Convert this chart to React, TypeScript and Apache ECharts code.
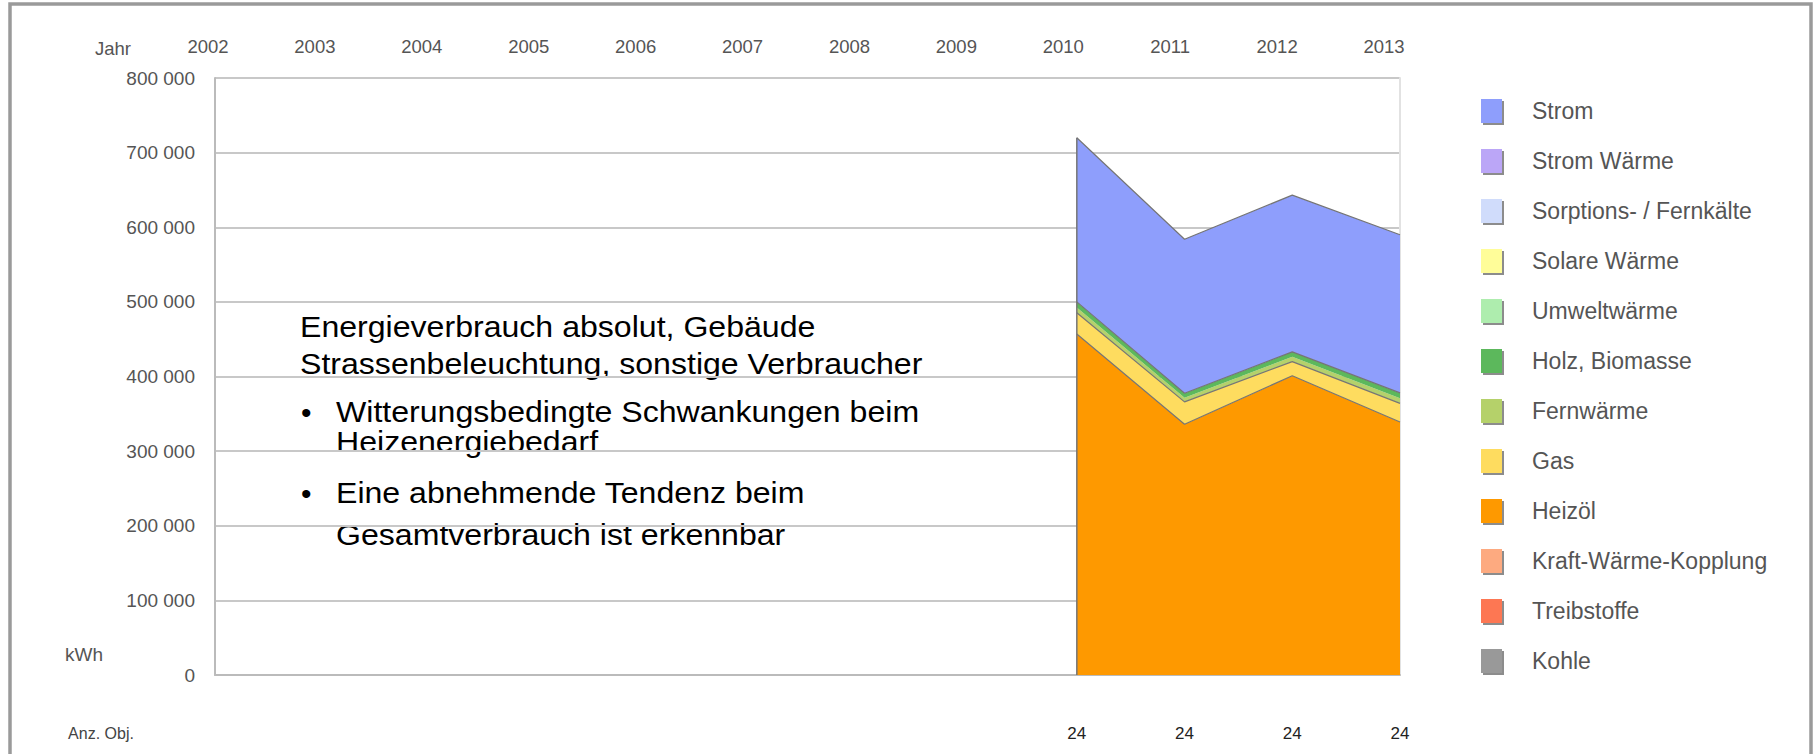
import React, { useEffect, useRef } from "react";
import * as echarts from "echarts";

const years = ["2002", "2003", "2004", "2005", "2006", "2007", "2008", "2009", "2010", "2011", "2012", "2013"];
const anzObj = ["", "", "", "", "", "", "", "", "24", "24", "24", "24"];
const N = null;

// values in kWh (stack order bottom -> top)
const kohle = [N, N, N, N, N, N, N, N, 0, 0, 0, 0];
const treibstoffe = [N, N, N, N, N, N, N, N, 0, 0, 0, 0];
const kwk = [N, N, N, N, N, N, N, N, 0, 0, 0, 0];
const heizoel = [N, N, N, N, N, N, N, N, 457000, 336000, 401000, 339000];
const gas = [N, N, N, N, N, N, N, N, 28500, 30000, 19000, 25000];
const fernwaerme = [N, N, N, N, N, N, N, N, 7000, 5500, 6500, 7000];
const holz = [N, N, N, N, N, N, N, N, 7500, 6000, 6500, 7000];
const umwelt = [N, N, N, N, N, N, N, N, 0, 0, 0, 0];
const solare = [N, N, N, N, N, N, N, N, 0, 0, 0, 0];
const sorptions = [N, N, N, N, N, N, N, N, 0, 0, 0, 0];
const stromWaerme = [N, N, N, N, N, N, N, N, 0, 0, 0, 0];
const strom = [N, N, N, N, N, N, N, N, 220000, 206500, 210000, 212000];

const seriesNames = [
  "Kohle", "Treibstoffe", "Kraft-Wärme-Kopplung", "Heizöl", "Gas", "Fernwärme",
  "Holz, Biomasse", "Umweltwärme", "Solare Wärme", "Sorptions- / Fernkälte", "Strom Wärme", "Strom",
];
const seriesData = [kohle, treibstoffe, kwk, heizoel, gas, fernwaerme, holz, umwelt, solare, sorptions, stromWaerme, strom];
const seriesColors = [
  "#999999", "#FD7753", "#FDAA80", "#FE9900", "#FEDC5F", "#B5D16B",
  "#5CB85C", "#AEEDAE", "#FFFD99", "#D0DCFB", "#BBA6F7", "#8E9EFC",
];
// series whose top edge is drawn without an outline
const noOutline = ["Fernwärme"];

const noteTitle = ["Energieverbrauch absolut, Gebäude", "Strassenbeleuchtung, sonstige Verbraucher"];
const noteBullets = [
  ["Witterungsbedingte Schwankungen beim", "Heizenergiebedarf"],
  ["Eine abnehmende Tendenz beim", "Gesamtverbrauch ist erkennbar"],
];

const FONT = '"Liberation Sans", Arial, sans-serif';

function fmt(v: number) {
  return String(v).replace(/\B(?=(\d{3})+(?!\d))/g, " ");
}

export default function App() {
  const ref = useRef<HTMLDivElement>(null);
  useEffect(() => {
    if (!ref.current) return;
    const chart = echarts.init(ref.current, null, { renderer: "svg" });

    const idx2010 = years.indexOf("2010");
    const total2010 = seriesData.reduce((s, arr) => s + ((arr[idx2010] as number) || 0), 0);

    const series: any[] = seriesData.map((arr, i) => {
      const allZero = arr.every((v) => v === null || v === 0);
      const hide = allZero || noOutline.includes(seriesNames[i]);
      return {
        type: "line",
        name: seriesNames[i],
        stack: "total",
        data: arr,
        xAxisIndex: 0,
        yAxisIndex: 0,
        symbol: "none",
        showSymbol: false,
        silent: true,
        color: seriesColors[i],
        itemStyle: { color: seriesColors[i] },
        lineStyle: { color: "#757575", width: hide ? 0 : 1.2 },
        areaStyle: { color: seriesColors[i], opacity: 1 },
      };
    });
    series.push({
      type: "line",
      name: "edge",
      data: [["2010", 0], ["2010", total2010]],
      xAxisIndex: 0,
      yAxisIndex: 0,
      symbol: "none",
      silent: true,
      lineStyle: { color: "#757575", width: 1.5 },
      z: 5,
    });

    const textEls: any[] = [];
    const tx = 300;
    const bx = 301;
    const btx = 336;
    const sX = 1.07;
    const tStyle = (t: string) => ({ text: t, fill: "#000", font: `30px ${FONT}`, align: "left", verticalAlign: "middle" });
    textEls.push({ type: "text", x: tx, y: 327, scaleX: sX, style: tStyle(noteTitle[0]) });
    textEls.push({ type: "text", x: tx, y: 364, scaleX: sX, style: tStyle(noteTitle[1]) });
    const bulletY = [[412, 442], [493, 535]];
    noteBullets.forEach((b, i) => {
      textEls.push({ type: "text", x: bx, y: bulletY[i][0], style: tStyle("•") });
      textEls.push({ type: "text", x: btx, y: bulletY[i][0], scaleX: sX, style: tStyle(b[0]) });
      textEls.push({ type: "text", x: btx, y: bulletY[i][1], scaleX: sX, style: tStyle(b[1]) });
    });

    chart.setOption({
      animation: false,
      backgroundColor: "#fff",
      textStyle: { fontFamily: FONT },
      grid: [
        { left: 215, right: 416, top: 78, bottom: 79 },
        { left: 208, right: 432, top: 78, bottom: 79 },
      ],
      xAxis: [
        {
          type: "category",
          gridIndex: 0,
          data: years,
          boundaryGap: false,
          axisLine: { show: true, lineStyle: { color: "#bbbbbb", width: 2 } },
          axisTick: { show: false },
          axisLabel: {
            margin: 50,
            color: "#222",
            fontSize: 17,
            fontFamily: FONT,
            formatter: (_v: string, i: number) => anzObj[i],
          },
          splitLine: { show: false },
        },
        {
          type: "category",
          gridIndex: 1,
          position: "top",
          data: years,
          boundaryGap: false,
          axisLine: { show: false },
          axisTick: { show: false },
          axisLabel: { margin: 22, color: "#555", fontSize: 18.5, fontFamily: FONT },
          splitLine: { show: false },
        },
      ],
      yAxis: [
        {
          type: "value",
          gridIndex: 0,
          min: 0,
          max: 800000,
          interval: 100000,
          axisLine: { show: true, lineStyle: { color: "#bbbbbb", width: 2 } },
          axisTick: { show: false },
          axisLabel: { margin: 20, color: "#555", fontSize: 19, fontFamily: FONT, formatter: (v: number) => fmt(v) },
          splitLine: { show: true, lineStyle: { color: "#c8c8c8", width: 2 } },
        },
        { type: "value", gridIndex: 1, show: false, min: 0, max: 800000 },
        {
          type: "value",
          gridIndex: 0,
          position: "right",
          min: 0,
          max: 800000,
          interval: 100000,
          axisLine: { show: true, lineStyle: { color: "#e2e2e2", width: 2 } },
          axisTick: { show: false },
          axisLabel: { show: false },
          splitLine: { show: false },
        },
      ],
      legend: {
        orient: "vertical",
        left: 1476,
        top: 94,
        itemWidth: 21,
        itemHeight: 24,
        itemGap: 26,
        icon: "rect",
        selectedMode: false,
        data: [...seriesNames].reverse(),
        itemStyle: { borderWidth: 0, shadowColor: "rgba(0,0,0,0.45)", shadowBlur: 1, shadowOffsetX: 2, shadowOffsetY: 2 },
        textStyle: { color: "#555", fontSize: 23, fontFamily: FONT, padding: [0, 0, 0, 25] },
      },
      graphic: [
        {
          type: "rect",
          shape: { x: 10, y: 4, width: 1801, height: 770 },
          style: { fill: "none", stroke: "#9a9a9a", lineWidth: 3.5 },
          silent: true,
        },
        { type: "text", x: 113, y: 48, style: { text: "Jahr", fill: "#555", font: `18.5px ${FONT}`, align: "center", verticalAlign: "middle" } },
        { type: "text", x: 84, y: 654, style: { text: "kWh", fill: "#555", font: `19px ${FONT}`, align: "center", verticalAlign: "middle" } },
        { type: "text", x: 101, y: 733, style: { text: "Anz. Obj.", fill: "#444", font: `16px ${FONT}`, align: "center", verticalAlign: "middle" } },
        ...textEls,
      ],
      series,
    });
    return () => chart.dispose();
  }, []);
  return <div ref={ref} style={{ position: "fixed", left: 0, top: 0, width: 1816, height: 754 }} />;
}
